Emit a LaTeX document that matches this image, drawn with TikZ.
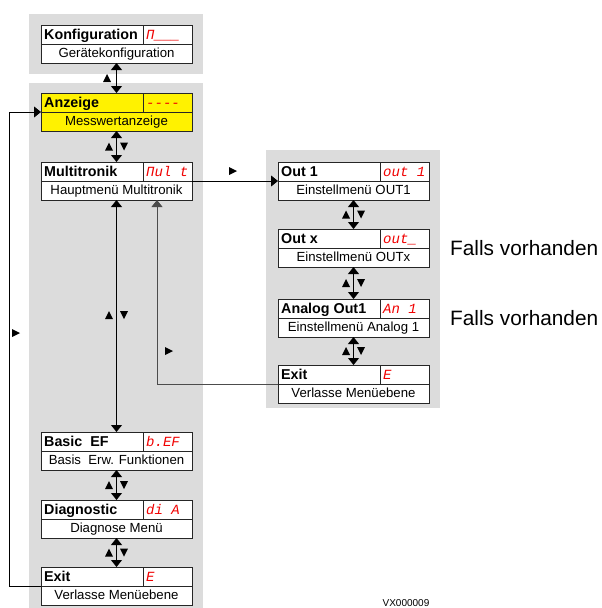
\documentclass[tikz,border=0pt]{standalone}
\usepackage{fontspec}
\setmainfont{Liberation Sans}
\setmonofont{Liberation Mono}
\usepackage{tikz}
\usetikzlibrary{arrows.meta,calc}
\definecolor{PanelGray}{RGB}{220,220,220}
\definecolor{CodeRed}{RGB}{240,0,0}
% one menu entry: [fill]{name}{top left}{title}{display code}{subtitle}
\newcommand{\MenuBox}[6][white]{%
  \node[menu box,fill=#1,anchor=north west] (#2) at (#3) {};
  \draw[box line] (#2.west) -- (#2.east);
  \draw[box line] ([xshift=102pt]#2.north west) -- ([xshift=102pt]#2.west);
  \node[title text] (#2-t) at ([xshift=3pt,yshift=4.5pt]#2.west) {#4};
  \node[code text] (#2-c) at ([xshift=105pt,yshift=4.5pt]#2.west) {#5};
  \node[sub text] (#2-s) at ([yshift=6pt]#2.south) {#6};
}

\begin{document}
\begin{tikzpicture}[x=1pt,y=-1pt,line join=miter,
  >={Triangle[width=11pt,length=7pt]},
  menu box/.style={draw=black!85,line width=0.8pt,minimum width=151pt,
    minimum height=38pt,inner sep=0pt,outer sep=0pt},
  box line/.style={draw=black!85,line width=0.8pt},
  title text/.style={font=\fontsize{14.3}{16}\selectfont\bfseries,
    inner sep=0pt,anchor=base west},
  code text/.style={font=\fontsize{14}{16}\selectfont\ttfamily\itshape,
    text=CodeRed,inner sep=0pt,anchor=base west},
  sub text/.style={font=\fontsize{13.2}{15}\selectfont,inner sep=0pt,anchor=base},
  note/.style={font=\fontsize{20.8}{23}\selectfont,inner sep=0pt,anchor=west},
  link/.style={line width=0.8pt},
  panel/.style={fill=PanelGray,draw=none},
  up mark/.pic={\fill (-4,4) -- (4,4) -- (0,-4) -- cycle;},
  down mark/.pic={\fill (-4,-4) -- (4,-4) -- (0,4) -- cycle;},
  right mark/.pic={\fill (-4,-4) -- (-4,4) -- (4,0) -- cycle;}]
  \useasboundingbox (0,0) rectangle (602,608);
  % panels
  \fill[panel] (29,14) rectangle (203,74);
  \fill[panel] (29,83) rectangle (203,608);
  \fill[panel] (266,150) rectangle (440,408);

  % main menu
  \MenuBox{konf}{41,25}{Konfiguration}{Π\_\_\_}{Gerätekonfiguration}
  \MenuBox[yellow]{anz}{41,93}{Anzeige}{-{}-{}-{}-}{Messwertanzeige}
  \MenuBox{mult}{41,162}{Multitronik}{Πul t}{Hauptmenü Multitronik}
  \MenuBox{basic}{41,432}{Basic\ \ EF}{b.EF}{Basis\ \ Erw. Funktionen}
  \MenuBox{diag}{41,500}{Diagnostic}{di A}{Diagnose Menü}
  \MenuBox{exitl}{41,567}{Exit}{E}{Verlasse Menüebene}

  % sub menu Multitronik
  \MenuBox{out1}{278,162}{Out 1}{out 1}{Einstellmenü OUT1}
  \MenuBox{outx}{278,229}{Out x}{out\_}{Einstellmenü OUTx}
  \MenuBox{ana}{278,299}{Analog Out1}{An 1}{Einstellmenü Analog 1}
  \MenuBox{exitr}{278,365}{Exit}{E}{Verlasse Menüebene}

  \node[note] (opt1) at ([xshift=21pt]outx.east) {Falls vorhanden};
  \node[note] (opt2) at ([xshift=21pt]ana.east) {Falls vorhanden};

  % connectors
  \draw[link,<->] (konf) -- (anz);
  \draw[link,<->] (anz) -- (mult);
  \draw[link,<->] (mult) -- (basic);
  \draw[link,<->] (basic) -- (diag);
  \draw[link,<->] (diag) -- (exitl);
  \draw[link,<->] (out1) -- (outx);
  \draw[link,<->] (outx) -- (ana);
  \draw[link,<->] (ana) -- (exitr);
  \draw[link,->] (mult.east) -- (out1.west);
  \draw[link,->,draw=black!70] (exitr.west) -| ([xshift=40.5pt]mult.south);
  \draw[link,->] (exitl.west) -- ++(-32,0) |- (anz.west);

  % direction marks
  \pic at (107,78) {up mark};
  \foreach \y in {146.5,315,485,552.5} {
    \pic at (109,\y) {up mark};
    \pic at (124,\y) {down mark};
  }
  \foreach \y in {214.5,283,351} {
    \pic at (346,\y) {up mark};
    \pic at (361,\y) {down mark};
  }
  \pic at (233,171) {right mark};
  \pic at (169,351) {right mark};
  \pic at (16,333) {right mark};

  \node[font=\fontsize{10}{12}\selectfont,inner sep=0pt,anchor=base] (vx) at (406,606) {VX000009};
\end{tikzpicture}
\end{document}
